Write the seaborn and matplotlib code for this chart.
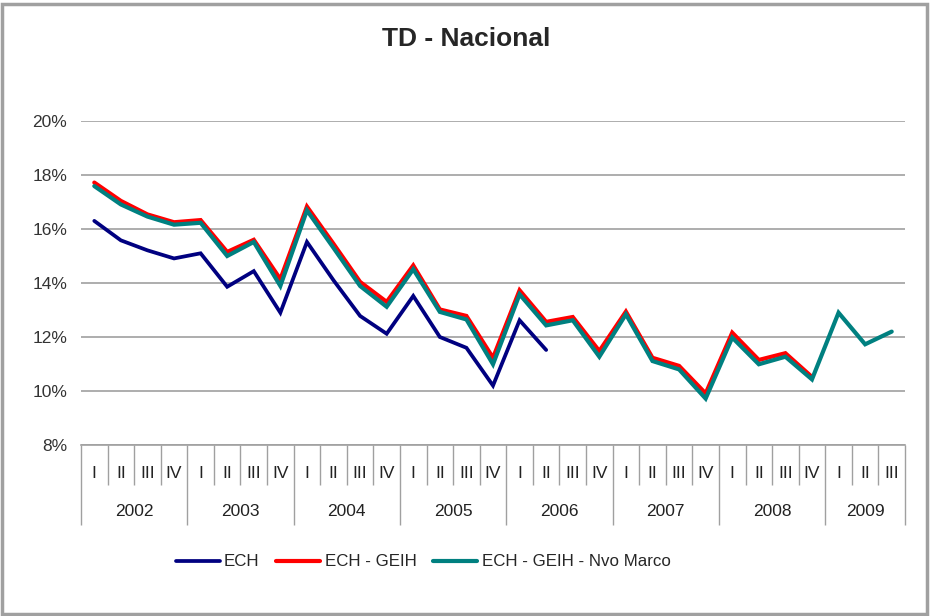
import numpy as np
import pandas as pd
import seaborn as sns
import matplotlib.pyplot as plt

# datos (tasa de desempleo, %)
anios = ['2002', '2003', '2004', '2005', '2006', '2007', '2008', '2009']
trimestres = ['I', 'II', 'III', 'IV'] * 7 + ['I', 'II', 'III']

ech = [16.30, 15.58, 15.21, 14.91, 15.10, 13.86, 14.44, 12.90,
       15.52, 14.10, 12.78, 12.12, 13.52, 12.00, 11.60, 10.20,
       12.62, 11.52]
ech_geih = [17.72, 17.04, 16.54, 16.25, 16.33, 15.15, 15.60, 14.14,
            16.83, 15.45, 14.04, 13.30, 14.65, 13.02, 12.78, 11.23,
            13.73, 12.56, 12.74, 11.48, 12.94, 11.23, 10.93, 9.91,
            12.16, 11.15, 11.40, 10.52]
ech_geih_nvo = [17.59, 16.91, 16.46, 16.16, 16.23, 15.00, 15.52, 13.89,
                16.69, 15.30, 13.89, 13.12, 14.51, 12.93, 12.65, 10.99,
                13.58, 12.43, 12.62, 11.27, 12.84, 11.11, 10.80, 9.72,
                11.98, 10.99, 11.27, 10.43, 12.90, 11.73, 12.20]

series = [('ECH', ech, '#000080', 2.7),
          ('ECH - GEIH', ech_geih, '#FF0000', 3.0),
          ('ECH - GEIH - Nvo Marco', ech_geih_nvo, '#008080', 3.0)]

sns.set_style('white')
plt.rcParams['font.family'] = ['Liberation Sans', 'DejaVu Sans']

fig = plt.figure(figsize=(9.3, 6.16), dpi=100)
W, H = 930, 616
ax = fig.add_axes([81 / W, (H - 445) / H, (905 - 81) / W, (445 - 121) / H])

for nombre, vals, color, lw in series:
    sns.lineplot(x=np.arange(len(vals)), y=vals, ax=ax, color=color,
                 linewidth=lw, label=nombre, solid_capstyle='round',
                 solid_joinstyle='miter')

ax.set_xlim(-0.5, len(trimestres) - 0.5)
ax.set_ylim(8, 20)
ax.set_yticks(np.arange(8, 21, 2))
ax.set_yticklabels([f'{v}%' for v in range(8, 21, 2)], fontsize=12.5, color='#333333')
ax.tick_params(axis='y', length=0, pad=10)
ax.set_xticks([])
ax.grid(axis='y', color='#A0A0A0', linewidth=1.2)
ax.set_axisbelow(True)
for s in ['left', 'right', 'top']:
    ax.spines[s].set_visible(False)
ax.spines['bottom'].set_color('#A0A0A0')
ax.spines['bottom'].set_linewidth(1.2)
ax.set_xlabel('')
ax.set_ylabel('')

# eje de categorias en dos niveles
tr = ax.get_xaxis_transform()
alto = 445 - 121
n = len(trimestres)
bordes = np.arange(n + 1) - 0.5
cortos = [b for i, b in enumerate(bordes) if i % 4 != 0 and i != n]
largos = [b for i, b in enumerate(bordes) if i % 4 == 0 or i == n]
ax.vlines(cortos, -40 / alto, 0, transform=tr, color='#A0A0A0', lw=1, clip_on=False)
ax.vlines(largos, -80 / alto, 0, transform=tr, color='#A0A0A0', lw=1, clip_on=False)
for i, t in enumerate(trimestres):
    ax.text(i, -28 / alto, t, transform=tr, ha='center', va='center',
            fontsize=12.5, color='#222222')
for k, a in enumerate(anios):
    fin = min(4 * k + 4, n)
    ax.text((4 * k + fin - 1) / 2, -67 / alto, a, transform=tr, ha='center',
            va='center', fontsize=12.5, color='#222222')

ax.get_legend().remove()
handles, labels = ax.get_legend_handles_labels()
fig.legend(handles, labels, loc='center', bbox_to_anchor=(423 / W, 1 - 562 / H),
           ncol=3, frameon=False, fontsize=12.2, handlelength=2.6,
           handletextpad=0.25, columnspacing=1.0)

fig.text(466 / W, 1 - 39 / H, 'TD - Nacional', ha='center', va='center',
         fontsize=19, fontweight='bold')

# marco exterior
fig.patches.append(plt.Rectangle((2 / W, 2 / H), 1 - 5 / W, 1 - 6 / H,
                                 transform=fig.transFigure, fill=False,
                                 edgecolor='#A0A0A0', linewidth=2.5))

fig.savefig('out.png', dpi=100)
